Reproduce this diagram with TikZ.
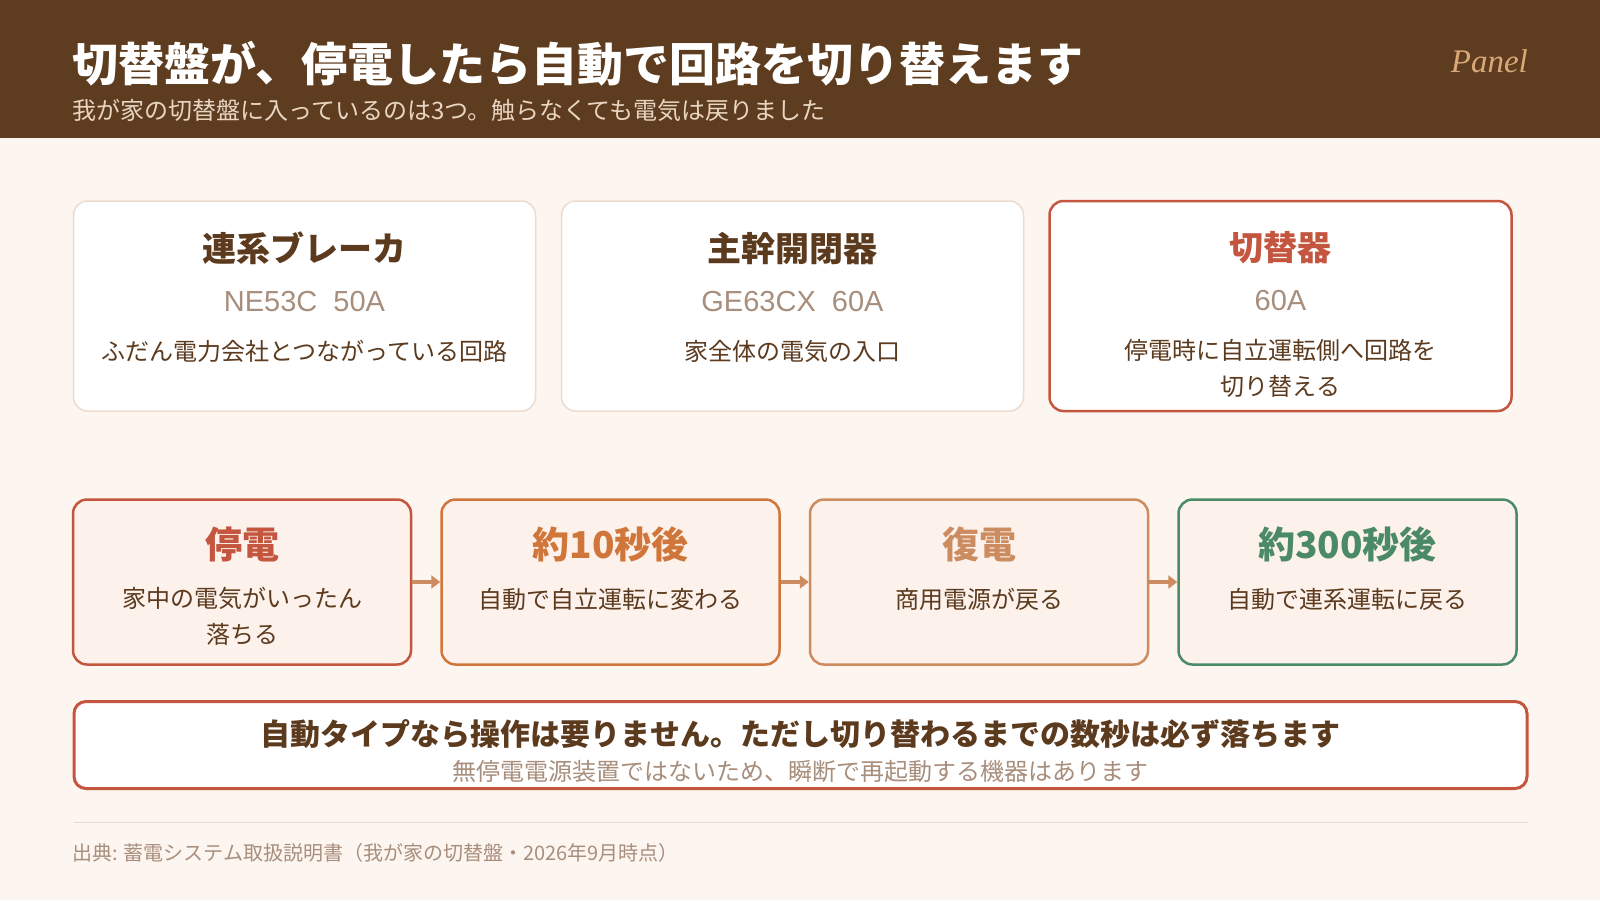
\documentclass[tikz,border=0pt]{standalone}
\usepackage{fontspec}
\setmainfont{Noto Sans CJK JP}
\newfontfamily\latinsans{Liberation Sans}
\newfontfamily\panelserif{Liberation Serif}
\usepackage{xcolor}
\usetikzlibrary{arrows.meta,positioning,calc}

\definecolor{bgcream}{HTML}{FDF5EF}
\definecolor{hdrbrown}{HTML}{5E3C1F}
\definecolor{hdrsub}{HTML}{E9D6C2}
\definecolor{paneltan}{HTML}{D9A877}
\definecolor{inkbrown}{HTML}{5C3A1E}
\definecolor{softgray}{HTML}{A88E7C}
\definecolor{cardline}{HTML}{EBDCCF}
\definecolor{alertred}{HTML}{C4553F}
\definecolor{warnorange}{HTML}{D0763A}
\definecolor{tanbrown}{HTML}{CC8C5F}
\definecolor{okgreen}{HTML}{4A8A66}
\definecolor{flowfill}{HTML}{FCF1EB}
\definecolor{rulegray}{HTML}{E6DAD0}

\begin{document}
\begin{tikzpicture}[x=1pt,y=-1pt,
	card/.style={draw=cardline,line width=1.5pt,fill=white,rounded corners=14pt,
		minimum width=462pt,minimum height=210pt,inner sep=0pt},
	cardtitle/.style={inner sep=0pt,text=inkbrown,font=\fontsize{34}{40}\selectfont\bfseries},
	cardmodel/.style={inner sep=0pt,text=softgray,font=\latinsans\fontsize{29}{32}\selectfont},
	carddesc/.style={inner sep=0pt,text=inkbrown,align=center,font=\fontsize{24}{36}\selectfont},
	flowbox/.style={line width=2.5pt,fill=flowfill,rounded corners=14pt,
		minimum width=338pt,minimum height=165pt,inner sep=0pt},
	flowtitle/.style={inner sep=0pt,font=\fontsize{37}{44}\selectfont\bfseries},
	flowarrow/.style={draw=tanbrown,line width=3.5pt,-{Triangle[length=9pt,width=13pt]}},
	]
	% page and header band
	\fill[bgcream] (0,0) rectangle (1600,900);
	\fill[hdrbrown] (0,0) rectangle (1600,138);
	\node[anchor=west,inner sep=0pt,text=white,font=\fontsize{46}{50}\selectfont\bfseries]
		(title) at (72,64) {切替盤が、停電したら自動で回路を切り替えます};
	\node[anchor=west,inner sep=0pt,text=hdrsub,font=\fontsize{24}{28}\selectfont]
		(subtitle) at (72,110) {我が家の切替盤に入っているのは3つ。触らなくても電気は戻りました};
	\node[anchor=east,inner sep=0pt,text=paneltan,font=\panelserif\itshape\fontsize{33}{36}\selectfont]
		(tag) at (1528,61) {Panel};
	
	% Row 1: the three devices
	\node[card] (breaker) at (304.5,306) {};
	\node[cardtitle] (breakername) at ($(breaker.north)+(0,48)$) {連系ブレーカ};
	\node[cardmodel] (breakermodel) at ($(breaker.north)+(0,101)$) {NE53C\ \ 50A};
	\node[carddesc] (breakernote) at ($(breaker.north)+(0,151)$) {ふだん電力会社とつながっている回路};
	
	\node[card] (mainsw) at (792.5,306) {};
	\node[cardtitle] (mainswname) at ($(mainsw.north)+(0,48)$) {主幹開閉器};
	\node[cardmodel] (mainswmodel) at ($(mainsw.north)+(0,101)$) {GE63CX\ \ 60A};
	\node[carddesc] (mainswnote) at ($(mainsw.north)+(0,151)$) {家全体の電気の入口};
	
	\node[card,draw=alertred,line width=2.5pt] (switcher) at (1280.5,306) {};
	\node[cardtitle,text=alertred] (switchername) at ($(switcher.north)+(0,48)$) {切替器};
	\node[cardmodel] (switchermodel) at ($(switcher.north)+(0,101)$) {60A};
	\node[carddesc] (switchernote) at ($(switcher.north)+(0,169)$) {停電時に自立運転側へ回路を\\切り替える};
	
	% Row 2: what happens, step by step
	\node[flowbox,draw=alertred] (outage) at (242,582) {};
	\node[flowtitle,text=alertred] at ($(outage.north)+(0,46)$) {停電};
	\node[carddesc] at ($(outage.north)+(0,118)$) {家中の電気がいったん\\落ちる};
	
	\node[flowbox,draw=warnorange] (tensec) at (610.5,582) {};
	\node[flowtitle,text=warnorange] at ($(tensec.north)+(0,46)$) {約10秒後};
	\node[carddesc] at ($(tensec.north)+(0,101)$) {自動で自立運転に変わる};
	
	\node[flowbox,draw=tanbrown] (restore) at (979,582) {};
	\node[flowtitle,text=tanbrown] at ($(restore.north)+(0,46)$) {復電};
	\node[carddesc] at ($(restore.north)+(0,101)$) {商用電源が戻る};
	
	\node[flowbox,draw=okgreen] (fivemin) at (1347.5,582) {};
	\node[flowtitle,text=okgreen] at ($(fivemin.north)+(0,46)$) {約300秒後};
	\node[carddesc] at ($(fivemin.north)+(0,101)$) {自動で連系運転に戻る};
	
	\draw[flowarrow] (outage) -- (tensec);
	\draw[flowarrow] (tensec) -- (restore);
	\draw[flowarrow] (restore) -- (fivemin);
	
	% note box
	\node[draw=alertred,line width=3pt,fill=white,rounded corners=12pt,
		minimum width=1453pt,minimum height=87pt] (note) at (800.5,745) {};
	\node[inner sep=0pt,text=inkbrown,font=\fontsize{30}{34}\selectfont\bfseries]
		(notemain) at (800.5,734) {自動タイプなら操作は要りません。ただし切り替わるまでの数秒は必ず落ちます};
	\node[inner sep=0pt,text=softgray,font=\fontsize{24}{28}\selectfont]
		(notesub) at (800.5,771) {無停電電源装置ではないため、瞬断で再起動する機器はあります};
	
	% footer
	\draw[rulegray,line width=1.5pt] (73.5,822.5) -- (1527.5,822.5);
	\node[anchor=west,inner sep=0pt,text=softgray,font=\fontsize{20}{24}\selectfont]
		(source) at (72,853) {出典: 蓄電システム取扱説明書（我が家の切替盤・2026年9月時点）};
\end{tikzpicture}
\end{document}
